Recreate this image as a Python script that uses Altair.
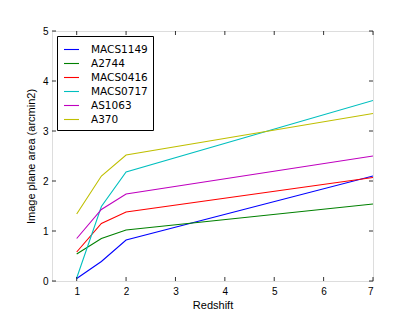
import altair as alt
import pandas as pd

redshift = [1.0, 1.5, 2.0, 7.0]
clusters = ["MACS1149", "A2744", "MACS0416", "MACS0717", "AS1063", "A370"]
areas = {
    "MACS1149": [0.05, 0.39, 0.82, 2.10],
    "A2744":    [0.54, 0.85, 1.02, 1.54],
    "MACS0416": [0.58, 1.15, 1.38, 2.07],
    "MACS0717": [0.06, 1.49, 2.18, 3.61],
    "AS1063":   [0.85, 1.43, 1.74, 2.50],
    "A370":     [1.34, 2.10, 2.52, 3.35],
}
colors = ["#0000ff", "#008000", "#ff0000", "#00bfbf", "#bf00bf", "#bfbf00"]
x_ticks = [1, 2, 3, 4, 5, 6, 7]
y_ticks = [0, 1, 2, 3, 4, 5]

rows = []
for c in clusters:
    for z, a in zip(redshift, areas[c]):
        rows.append({"cluster": c, "z": z, "area": a})
df = pd.DataFrame(rows)

W, H = 321, 250
font = "DejaVu Sans"

xscale = alt.Scale(domain=[0.5, 7], nice=False, zero=False)
yscale = alt.Scale(domain=[0, 5], nice=False)

lines = alt.Chart(df).mark_line(strokeWidth=1.1, clip=True).encode(
    x=alt.X("z:Q", scale=xscale,
            axis=alt.Axis(title="Redshift", values=x_ticks, tickSize=0, labelPadding=5,
                          domain=False, grid=False, titlePadding=3,
                          titleFontWeight="normal")),
    y=alt.Y("area:Q", scale=yscale,
            axis=alt.Axis(title="Image plane area (arcmin2)", values=y_ticks, tickSize=0,
                          labelPadding=4, domain=False, grid=False, titlePadding=6,
                          titleFontWeight="normal")),
    color=alt.Color("cluster:N", sort=clusters,
                    scale=alt.Scale(domain=clusters, range=colors),
                    legend=alt.Legend(title=None, orient="none", legendX=5, legendY=5,
                                      symbolType="stroke", symbolSize=225,
                                      symbolStrokeWidth=1.1, symbolOpacity=1,
                                      strokeColor="black",
                                      fillColor="white", padding=5, rowPadding=0,
                                      labelFontSize=10.5, labelFont=font,
                                      labelColor="black",
                                      labelOffset=11, symbolOffset=1)),
    order=alt.Order("z:Q"),
)

xt = pd.DataFrame({"v": x_ticks})
yt = pd.DataFrame({"v": y_ticks})

xb = alt.Chart(xt).mark_rule(color="black", strokeWidth=0.8).encode(
    x=alt.X("v:Q", scale=xscale), y=alt.value(H), y2=alt.value(H - 4))
xtp = alt.Chart(xt).mark_rule(color="black", strokeWidth=0.8).encode(
    x=alt.X("v:Q", scale=xscale), y=alt.value(0), y2=alt.value(4))
yl = alt.Chart(yt).mark_rule(color="black", strokeWidth=0.8).encode(
    y=alt.Y("v:Q", scale=yscale), x=alt.value(0), x2=alt.value(4))
yr = alt.Chart(yt).mark_rule(color="black", strokeWidth=0.8).encode(
    y=alt.Y("v:Q", scale=yscale), x=alt.value(W - 4), x2=alt.value(W))

chart = alt.layer(lines, xb, xtp, yl, yr).properties(
    width=W, height=H,
    autosize=alt.AutoSizeParams(type="none"),
    padding={"left": 44, "top": 23, "right": 20, "bottom": 30},
).configure_view(stroke="black", strokeWidth=1).configure_axis(
    labelFont=font, titleFont=font, labelFontSize=8, titleFontSize=8,
    labelColor="black", titleColor="black",
).configure(background="white")

chart.save("out.html", embed_options={"renderer": "svg", "actions": False})
